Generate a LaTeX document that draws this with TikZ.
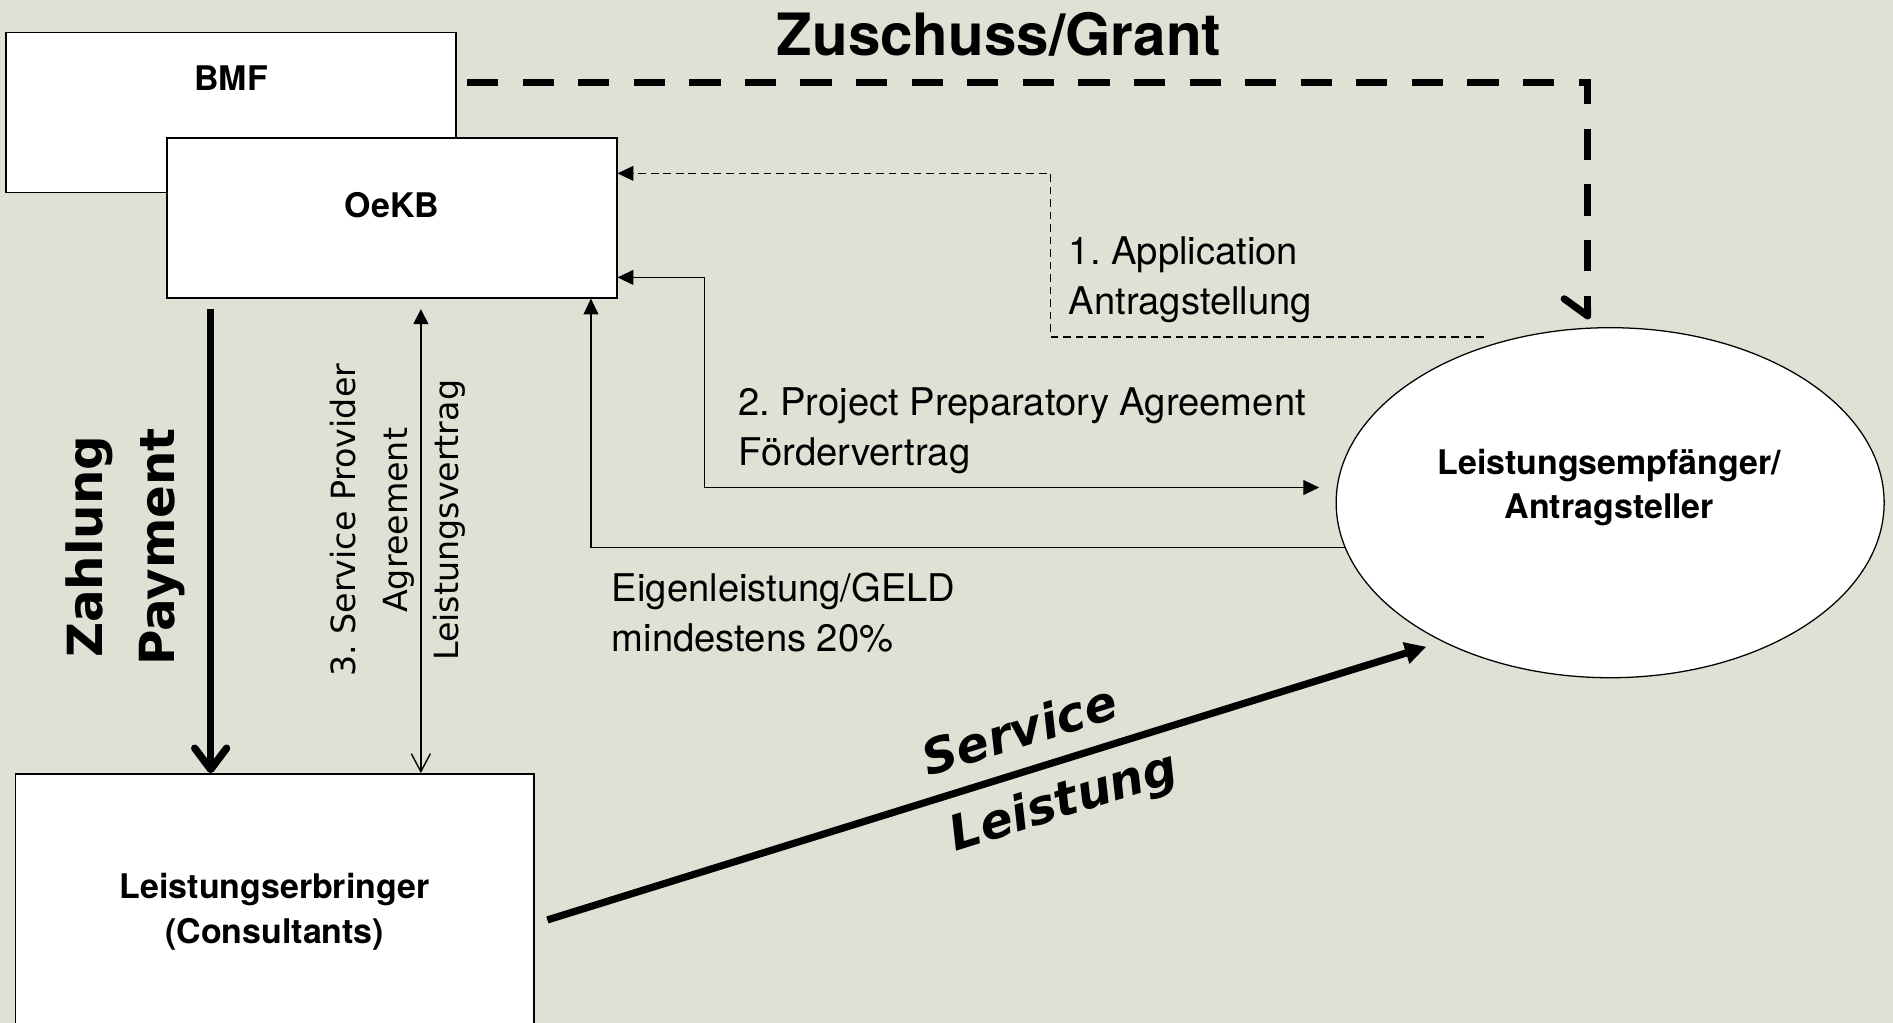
\documentclass[tikz,border=0pt]{standalone}
\usepackage{fontspec}
\setmainfont{TeX Gyre Heros}
\newfontfamily\dejavu{DejaVu Sans}[BoldFont={DejaVu Sans Bold},ItalicFont={DejaVu Sans Oblique},BoldItalicFont={DejaVu Sans Bold Oblique}]
\usetikzlibrary{arrows.meta}
\usetikzlibrary{shapes.geometric}
\definecolor{canvas}{RGB}{224,224,213}
\frenchspacing

\begin{document}
\begin{tikzpicture}[x=0.02cm, y=-0.02cm,
  box/.style={draw, fill=white, line width=0.7pt, inner sep=0pt},
  boxlabel/.style={font=\fontsize{16}{21}\selectfont\bfseries, align=center, inner sep=0pt},
  flowlabel/.style={font=\fontsize{18}{23.6}\selectfont, align=left, inner sep=0pt, anchor=north west},
  vlabel/.style={rotate=90, align=center, inner sep=0pt},
  svclabel/.style={font=\dejavu\bfseries\itshape\fontsize{22.8}{27}\selectfont, sloped, inner xsep=0pt},
  thinarrow/.style={line width=0.65pt, -{Triangle[length=7.5pt,width=7pt]}},
  appline/.style={thinarrow, dash pattern=on 3.6pt off 2.3pt},
  agrline/.style={line width=0.65pt, {Triangle[length=7.5pt,width=7pt]}-{Triangle[length=7.5pt,width=7pt]}},
  spline/.style={line width=0.65pt, {Triangle[length=7pt,width=7pt]}-{Straight Barb[length=8.5pt,width=9pt]}},
  payline/.style={line width=3.5pt, -{Straight Barb[length=10pt,width=15pt,round]}},
  svcline/.style={line width=3.4pt, -{Triangle[length=10pt,width=10pt]}},
  grantline/.style={line width=3.4pt, dash pattern=on 14.7pt off 11.5pt,
    -{Straight Barb[harpoon,swap,length=8pt,width=22pt,round]}}]

  \fill[canvas] (0,0) rectangle (1568,847.3);
  \useasboundingbox (0,0) rectangle (1568,847.3);

  \node[box, minimum width=7.46cm, minimum height=2.65cm] (bmf) at (191.35,93.35) {};
  \node[boxlabel, anchor=base] (bmflbl) at (191.35,75.1) {BMF};
  \node[box, minimum width=7.45cm, minimum height=2.65cm] (oekb) at (324.65,180.45) {};
  \node[boxlabel, anchor=base] (oekblbl) at (324.65,180) {OeKB};
  \node[box, minimum width=8.59cm, minimum height=4.14cm] (erbringer) at (227.5,744.5) {};
  \node[boxlabel, anchor=north] (erbringerlbl) at (227.5,723.2) {Leistungserbringer\\(Consultants)};
  \node[box, ellipse, line width=0.6pt, minimum width=9.08cm, minimum height=5.8cm] (empf) at (1333.7,416.4) {};
  \node[boxlabel, anchor=north] (empflbl) at (1333,371.5) {Leistungsempfänger/\\Antragsteller};

  \node[font=\fontsize{27.5}{33}\selectfont\bfseries, anchor=base, inner sep=0pt] (grantlbl) at (827.5,45.6) {Zuschuss/Grant};
  \node[flowlabel] (applbl) at (885,196) {1. Application\\Antragstellung};
  \node[flowlabel] (agrlbl) at (611,321) {2. Project Preparatory Agreement\\Fördervertrag};
  \node[flowlabel] (eiglbl) at (506.5,474.2) {Eigenleistung/GELD\\mindestens 20\%};
  \node[vlabel, font=\dejavu\bfseries\fontsize{22.8}{34}\selectfont] (paylbl) at (104,453) {Zahlung\\Payment};
  \node[vlabel, font=\dejavu\fontsize{15.7}{24.4}\selectfont] (splbl) at (329.6,431) {3. Service Provider\\Agreement\\Leistungsvertrag};

  \coordinate (grantcorner) at (1315,68.2);
  \draw[grantline, shorten <=4.8pt, shorten >=3.6pt] (bmf.east |- grantcorner) -- (grantcorner) -- (grantcorner |- empf.north);

  \coordinate (appstart) at (1229,279);
  \coordinate (appcorner) at (870.2,143.6);
  \draw[appline] (appstart) -| (appcorner) -- (appcorner -| oekb.east);

  \coordinate (agrcorner) at (583.3,229.8);
  \coordinate (agrend) at (1092.7,403.8);
  \draw[agrline] (agrcorner -| oekb.east) -- (agrcorner) |- (agrend);

  \coordinate (eigstart) at (1114,453.3);
  \coordinate (eigcorner) at (489.5,453.3);
  \draw[thinarrow] (eigstart) -- (eigcorner) -- (eigcorner |- oekb.south);

  \coordinate (payx) at (174.5,450);
  \draw[payline, shorten <=5pt] (oekb.south -| payx) -- (erbringer.north -| payx);
  \coordinate (spx) at (348.6,450);
  \draw[spline, shorten <=5pt] (oekb.south -| spx) -- (erbringer.north -| spx);

  \coordinate (svcstart) at (453.4,762);
  \coordinate (svcend) at (1181.4,535.7);
  \draw[svcline] (svcstart) -- (svcend)
    node[svclabel, pos=0.551, anchor=south, inner ysep=9.2pt] (svclbl) {Service}
    node[svclabel, pos=0.574, anchor=north, inner ysep=7.2pt] (leistlbl) {Leistung};
\end{tikzpicture}
\end{document}
